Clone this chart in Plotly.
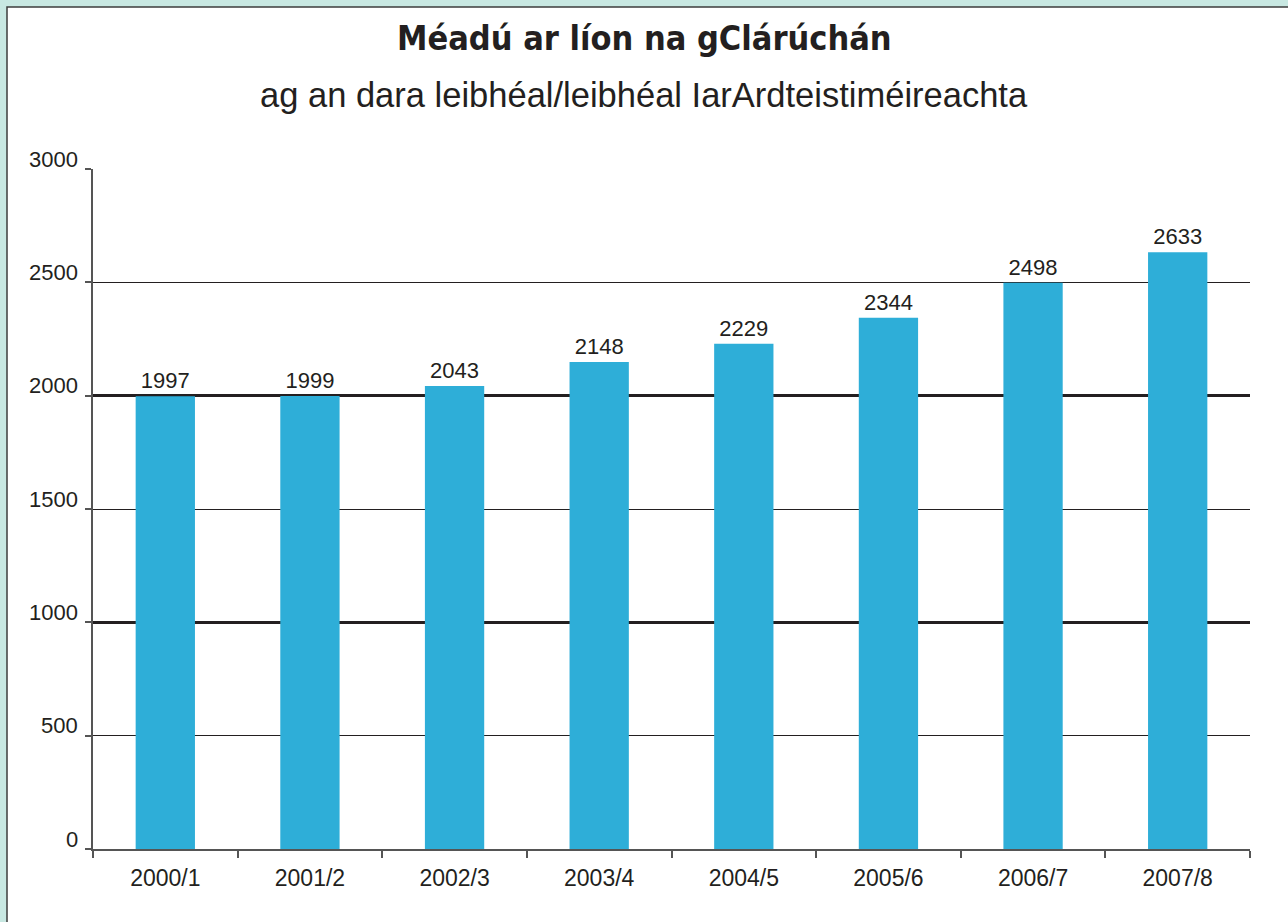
import plotly.graph_objects as go

categories = ["2000/1", "2001/2", "2002/3", "2003/4", "2004/5", "2005/6", "2006/7", "2007/8"]
values = [1997, 1999, 2043, 2148, 2229, 2344, 2498, 2633]
y_ticks = [0, 500, 1000, 1500, 2000, 2500, 3000]

title = "Méadú ar líon na gClárúchán"
subtitle = "ag an dara leibhéal/leibhéal IarArdteistiméireachta"

W, H = 1288, 922
L, R, T, B = 93, 38, 169, 73
pw, ph = W - L - R, H - T - B
FONT = "Liberation Sans, Arial, sans-serif"

fig = go.Figure()
fig.add_trace(go.Bar(
    x=categories, y=values,
    marker=dict(color="#2eaed8", line=dict(width=0)),
    width=0.41,
    text=[str(v) for v in values], textposition="outside",
    textfont=dict(family=FONT, size=22, color="#231f20"),
    cliponaxis=False,
))

# white panel with dark border
fig.add_shape(type="rect", xref="paper", yref="paper",
              x0=(7 - L) / pw, x1=(W + 5 - L) / pw,
              y0=(ph + T - (H + 5)) / ph, y1=(ph + T - 7) / ph,
              fillcolor="white", line=dict(color="#3c3c3c", width=1.5), layer="below")

for v in y_ticks:
    fig.add_annotation(x=(80 - L) / pw, xref="paper", y=v, yref="y", text=str(v),
                       showarrow=False, xanchor="right", yanchor="middle", yshift=10,
                       font=dict(family=FONT, size=22, color="#231f20"))

fig.add_annotation(x=0.5, xref="paper", y=(ph + T - 38) / ph, yref="paper", text="<b>" + title + "</b>",
                   showarrow=False, xanchor="center", yanchor="middle",
                   xshift=(W / 2 - (L + pw / 2)),
                   font=dict(family="Liberation Sans Narrow, DejaVu Sans Condensed, Arial Narrow, sans-serif",
                             size=34, color="#231f20"))
fig.add_annotation(x=0.5, xref="paper", y=(ph + T - 95) / ph, yref="paper", text=subtitle,
                   showarrow=False, xanchor="center", yanchor="middle",
                   xshift=(W / 2 - (L + pw / 2)),
                   font=dict(family=FONT, size=34.5, color="#231f20"))

fig.update_layout(
    width=W, height=H,
    margin=dict(l=L, r=R, t=T, b=B),
    paper_bgcolor="#c8e8e2", plot_bgcolor="rgba(0,0,0,0)",
    showlegend=False,
    bargap=0.59,
    xaxis=dict(
        type="category", showline=True, linecolor="#555555", linewidth=1.5,
        ticks="outside", tickson="boundaries", ticklen=7, tickcolor="#555555", tickwidth=1.5,
        tickfont=dict(family=FONT, size=23, color="#231f20"),
        ticklabelstandoff=8,
        showgrid=False, zeroline=False,
    ),
    yaxis=dict(
        range=[0, 3000], dtick=1000, tick0=0, showticklabels=False,
        showline=True, linecolor="#555555", linewidth=1.5,
        ticks="outside", ticklen=6, tickcolor="#555555", tickwidth=1.5,
        showgrid=True, gridcolor="#231f20", gridwidth=2.5,
        zeroline=False,
        minor=dict(dtick=500, showgrid=True, gridcolor="#231f20", gridwidth=1,
                   ticks="outside", ticklen=6, tickcolor="#555555", tickwidth=1.5),
    ),
)

fig.write_html("out.html", config={"displayModeBar": False},
               post_script="document.body.style.margin='0';document.body.style.padding='0';")
